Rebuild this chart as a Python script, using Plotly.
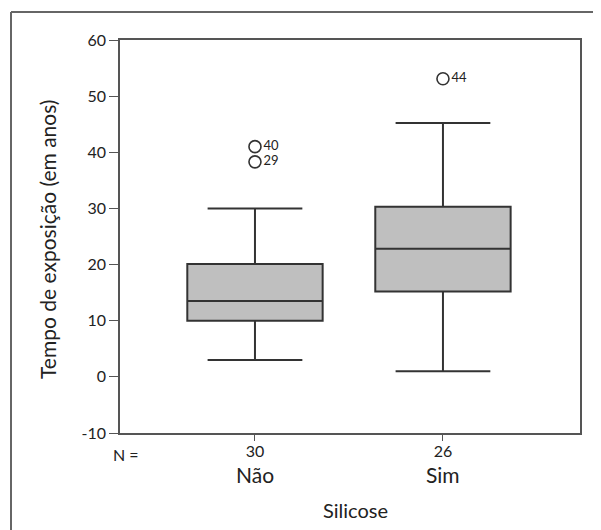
import plotly.graph_objects as go

# Data
categories = ["Não", "Sim"]
n_counts = ["30", "26"]
q1 = [10.0, 15.2]
median = [13.5, 22.8]
q3 = [20.1, 30.3]
lower_whisker = [3.0, 1.0]
upper_whisker = [30.0, 45.2]

outlier_cat = ["Não", "Não", "Sim"]
outlier_val = [41.0, 38.3, 53.1]
outlier_lbl = ["40", "29", "44"]

y_ticks = [-10, 0, 10, 20, 30, 40, 50, 60]
y_tick_labels = ["-10", "0", "10", "20", "30", "40", "50", "60"]

FONT = "Lato"
TXT = "#222222"

fig = go.Figure()
fig.add_trace(go.Box(
    x=categories, q1=q1, median=median, q3=q3,
    lowerfence=lower_whisker, upperfence=upper_whisker,
    width=0.72, whiskerwidth=0.7,
    fillcolor="#bfbfbf",
    line=dict(color="#333333", width=2),
    boxpoints=False, showlegend=False, hoverinfo="skip",
))
fig.add_trace(go.Scatter(
    x=outlier_cat, y=outlier_val, text=outlier_lbl,
    mode="markers+text", textposition="middle right",
    textfont=dict(family=FONT, size=13, color=TXT),
    marker=dict(symbol="circle-open", size=12, color="#333333",
                line=dict(width=1.6, color="#333333")),
    showlegend=False, hoverinfo="skip", cliponaxis=False,
))

# page body adds an 8px offset; figure sized so it fits the 601x530 window
W, H = 593, 522
L, T, PW, PH = 112, 32, 460, 393
R = W - L - PW
B = H - T - PH
fig.update_layout(
    width=W, height=H,
    margin=dict(l=L, r=R, t=T, b=B),
    paper_bgcolor="white", plot_bgcolor="white",
    font=dict(family=FONT, color=TXT),
    xaxis=dict(
        type="category", range=[-0.718, 1.729],
        tickmode="array", tickvals=categories, ticktext=n_counts,
        ticks="outside", ticklen=6, tickcolor="#555555", tickwidth=1.2,
        tickfont=dict(family=FONT, size=16, color=TXT),
        ticklabelstandoff=-3,
        showgrid=False, zeroline=False,
        showline=True, linecolor="#555555", linewidth=1.6, mirror=True,
    ),
    yaxis=dict(
        range=[-10, 60], tickmode="array", tickvals=y_ticks,
        ticktext=y_tick_labels,
        ticks="outside", ticklen=9, tickcolor="#555555", tickwidth=1.2,
        tickfont=dict(family=FONT, size=16, color=TXT),
        showgrid=False, zeroline=False,
        showline=True, linecolor="#555555", linewidth=1.6, mirror=True,
    ),
)

# screen-pixel -> paper coordinates (screen = figure + 8)
def px_x(px):
    return (px - 8 - L) / PW

def px_y(py):
    return (H - B - (py - 8)) / PH

def note(text, sx, sy, size, angle=0, xref="paper", x=None):
    fig.add_annotation(
        x=px_x(sx) if x is None else x, y=px_y(sy),
        xref=xref, yref="paper", text=text, showarrow=False,
        xanchor="center", yanchor="middle", textangle=angle,
        font=dict(family=FONT, size=size, color=TXT))

for cat in categories:
    note(cat, None, 474, 21, xref="x", x=cat)
note("N =", 126, 454, 16)
note("Silicose", 355, 510, 20)
note("Tempo de exposição (em anos)", 47, 240, 21, angle=-90)

# Outer frame of the scanned figure
fig.add_shape(type="line", xref="paper", yref="paper",
              x0=px_x(11), y0=px_y(535), x1=px_x(11), y1=px_y(12),
              line=dict(color="#666666", width=2))
fig.add_shape(type="line", xref="paper", yref="paper",
              x0=px_x(11), y0=px_y(12), x1=px_x(605), y1=px_y(12),
              line=dict(color="#666666", width=2))

fig.write_html("out.html")
